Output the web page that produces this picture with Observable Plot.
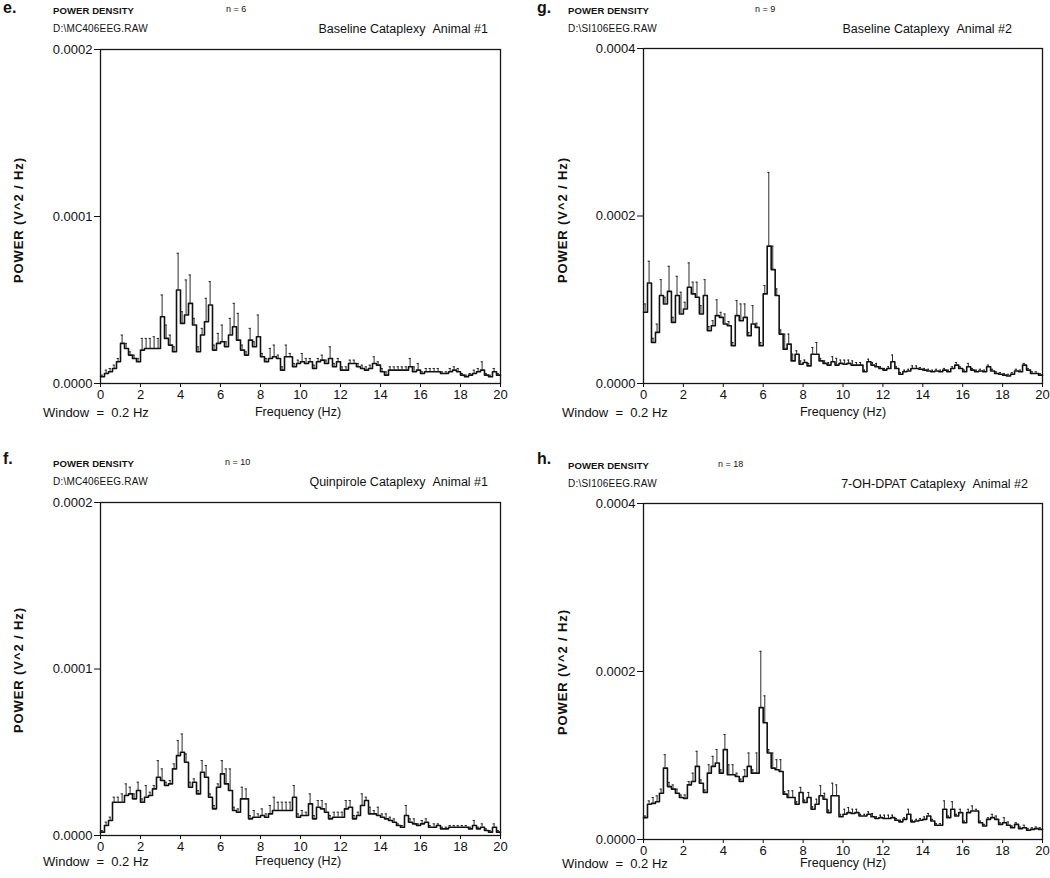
<!DOCTYPE html>
<html>
<head>
<meta charset="utf-8">
<script src="https://cdn.jsdelivr.net/npm/d3@7"></script>
<script src="https://cdn.jsdelivr.net/npm/@observablehq/plot@0.6"></script>
<style>
  html, body { margin: 0; padding: 0; background: #fff; }
  #page { position: relative; width: 1050px; height: 878px; overflow: hidden; font-family: "Liberation Sans", Arial, sans-serif; color: #111; }
  .abs { position: absolute; white-space: nowrap; line-height: 1; }
  .letter { font-weight: bold; font-size: 16px; }
  .small { font-size: 9.5px; font-weight: bold; letter-spacing: 0.1px; }
  .file { font-size: 10px; letter-spacing: 0.2px; }
  .smalln { font-size: 9px; }
  .title { font-size: 12.5px; }
  .ylab { font-size: 13px; font-weight: bold; letter-spacing: 0.9px; transform-origin: 50% 50%; transform: translate(-50%, -50%) rotate(-90deg); }
  .xlab { font-size: 12.5px; }
  .win { font-size: 13px; }
  svg { position: absolute; overflow: visible; }
</style>
</head>
<body>
<div id="page"></div>
<script>
// ---- DATA (values in units of 1e-6 V^2/Hz, one per 0.2 Hz bin, 0..20 Hz) ----
const windowHz = 0.2;
const unit = 1e-6;
const xTicks = [0, 2, 4, 6, 8, 10, 12, 14, 16, 18, 20];
const yTicksAnimal1 = [0, 0.0001, 0.0002];
const yTicksAnimal2 = [0, 0.0002, 0.0004];

// e. Baseline Cataplexy Animal #1
const eMean = [4,6,7,9,13,24,21,17,15,13, 20,21,21,21,21,40,27,23,19,56,
  36,41,48,35,19,29,37,47,20,24, 25,22,29,34,26,20,17,26,22,28,
  16,13,15,16,15,8,16,16,10,12, 13,12,13,9,13,14,12,15,10,13,
  8,8,12,12,10,9,8,9,12,11, 7,5,8,8,8,8,8,10,7,8,
  6,7,7,7,7,6,6,7,8,7, 5,4,5,6,7,8,5,4,7,5];
const eErr = [1,2,2,2,2,5,3,2,2,2, 7,6,6,7,6,13,8,6,3,22,
  7,21,17,4,3,4,14,14,3,6, 10,3,10,14,16,3,2,7,3,13,
  2,2,6,7,2,2,7,2,2,2, 5,3,2,2,2,3,2,7,2,2,
  2,2,2,2,2,2,2,2,4,2, 2,2,2,2,2,2,2,5,3,4,
  1,2,2,2,2,1,1,2,2,2, 1,1,1,2,2,5,1,1,2,1];

// g. Baseline Cataplexy Animal #2
const gMean = [85,120,49,61,105,95,110,73,105,83, 89,115,107,103,83,105,63,69,81,79,
  71,69,45,81,75,79,57,71,67,45, 107,164,136,105,59,41,47,27,35,23,
  25,21,35,35,27,24,22,26,22,24, 23,24,22,22,22,14,26,22,20,18,
  16,18,26,18,11,14,15,18,18,17, 16,15,14,15,14,16,14,18,22,18,
  14,20,16,14,15,14,20,15,12,11, 10,9,11,15,14,22,16,12,12,10];
const gErr = [10,26,5,10,19,8,30,6,23,26, 8,29,14,18,10,19,5,6,19,6,
  12,5,4,18,20,16,4,22,5,4, 10,88,28,8,5,18,12,8,4,4,
  3,3,8,14,3,3,3,6,8,4, 5,4,5,3,3,2,3,3,4,2,
  2,2,8,2,2,2,2,3,3,2, 2,2,2,2,2,2,2,2,3,2,
  2,4,2,2,2,2,2,2,2,2, 2,2,2,2,2,2,2,2,2,2];

// f. Quinpirole Cataplexy Animal #1
const fMean = [2,6,9,20,20,20,24,25,22,27, 20,23,24,28,35,33,30,31,40,48,
  50,44,29,32,25,38,35,23,16,29, 37,31,27,15,14,22,22,10,11,11,
  12,11,13,15,15,15,15,15,23,11, 12,12,19,10,17,16,14,10,11,11,
  11,16,17,10,12,18,21,13,13,12, 11,10,9,8,6,5,12,8,7,6,
  7,8,5,5,6,4,4,5,5,5, 5,5,4,6,4,5,3,2,5,2];
const fErr = [1,2,2,3,3,5,7,4,3,5, 2,7,2,2,10,7,2,2,3,9,
  11,5,3,2,2,7,7,2,2,2, 8,9,13,2,2,7,6,2,4,2,
  4,2,5,8,5,5,5,5,7,2, 3,2,6,2,4,5,5,2,3,3,
  3,5,4,2,2,7,2,4,2,5, 2,3,2,2,1,1,6,2,3,1,
  2,2,1,2,1,1,1,1,1,1, 1,1,1,3,1,2,1,1,2,1];

// h. 7-OH-DPAT Cataplexy Animal #2
const hMean = [26,42,43,45,55,85,63,60,55,50, 49,65,69,87,67,56,79,87,91,79,
  107,77,77,75,69,75,87,79,79,157, 139,103,85,83,81,54,50,50,42,56,
  44,50,36,42,52,48,32,52,52,27, 30,32,31,32,28,28,30,27,25,26,
  25,25,26,23,21,24,30,21,22,23, 24,28,22,17,17,36,26,36,28,32,
  20,32,34,34,20,16,24,26,24,18, 20,17,14,18,13,14,11,12,13,12];
const hErr = [2,4,7,7,5,16,5,5,5,3, 4,4,10,18,4,3,10,12,16,4,
  18,12,12,4,3,8,16,4,24,67, 32,4,18,12,14,3,8,8,3,6,
  3,6,3,6,12,7,3,15,13,3, 6,6,5,4,2,2,3,4,2,3,
  4,4,3,2,2,2,6,2,2,2, 3,3,2,2,2,10,2,9,2,4,
  2,4,6,2,2,2,2,4,4,2, 6,4,2,2,2,3,2,2,2,2];

const panels = [
  {id: "e", letter: "e.", n: "n = 6", file: "D:\\MC406EEG.RAW", title: "Baseline Cataplexy\u00a0\u00a0Animal #1",
   mean: eMean, err: eErr, yMax: 0.0002, yTicks: yTicksAnimal1,
   left: 0, top: 0, w: 525, h: 430, ml: 100, mr: 25, mt: 49, mb: 47,
   letterPos: [3, 0], pdPos: [53, 6], nPos: [226, 5], filePos: [53, 24], titleRight: 488, titleTop: 23,
   ylabCenter: [18, 220], winPos: [43, 406], freqCenter: 298, freqTop: 406},
  {id: "g", letter: "g.", n: "n = 9", file: "D:\\SI106EEG.RAW", title: "Baseline Cataplexy\u00a0\u00a0Animal #2",
   mean: gMean, err: gErr, yMax: 0.0004, yTicks: yTicksAnimal2,
   left: 525, top: 0, w: 525, h: 430, ml: 118, mr: 8, mt: 48, mb: 47,
   letterPos: [537, 0], pdPos: [568, 6], nPos: [755, 5], filePos: [568, 24], titleRight: 1012, titleTop: 23,
   ylabCenter: [562, 220], winPos: [562, 406], freqCenter: 843, freqTop: 406},
  {id: "f", letter: "f.", n: "n = 10", file: "D:\\MC406EEG.RAW", title: "Quinpirole Cataplexy\u00a0\u00a0Animal #1",
   mean: fMean, err: fErr, yMax: 0.0002, yTicks: yTicksAnimal1,
   left: 0, top: 450, w: 525, h: 430, ml: 100, mr: 25, mt: 52, mb: 45,
   letterPos: [3, 451], pdPos: [53, 459], nPos: [225, 458], filePos: [53, 477], titleRight: 488, titleTop: 476,
   ylabCenter: [18, 670], winPos: [43, 855], freqCenter: 298, freqTop: 855},
  {id: "h", letter: "h.", n: "n = 18", file: "D:\\SI106EEG.RAW", title: "7-OH-DPAT Cataplexy\u00a0\u00a0Animal #2",
   mean: hMean, err: hErr, yMax: 0.0004, yTicks: yTicksAnimal2,
   left: 525, top: 450, w: 525, h: 430, ml: 118, mr: 8, mt: 53, mb: 41,
   letterPos: [537, 451], pdPos: [568, 461], nPos: [718, 460], filePos: [568, 479], titleRight: 1028, titleTop: 478,
   ylabCenter: [562, 672], winPos: [562, 857], freqCenter: 843, freqTop: 857}
];

const page = document.getElementById("page");
function addText(txt, cls, x, y, extra) {
  const d = document.createElement("div");
  d.className = "abs " + cls;
  d.textContent = txt;
  d.style.left = x + "px";
  d.style.top = y + "px";
  if (extra) Object.assign(d.style, extra);
  page.appendChild(d);
  return d;
}

for (const p of panels) {
  const rows = p.mean.map((v, i) => ({f: i * windowHz, v: v * unit, up: (v + p.err[i]) * unit}));
  const stepRows = rows.concat([{f: 20, v: rows[rows.length - 1].v}]);
  const chart = Plot.plot({
    width: p.w, height: p.h,
    marginLeft: p.ml, marginRight: p.mr, marginTop: p.mt, marginBottom: p.mb,
    style: {fontFamily: "'Liberation Sans', Arial, sans-serif", fontSize: "12px", background: "transparent", color: "#111"},
    x: {domain: [0, 20]},
    y: {domain: [0, p.yMax]},
    marks: [
      Plot.frame({stroke: "#151515", strokeWidth: 1.3}),
      Plot.axisX({ticks: xTicks, tickSize: 4, tickPadding: 2, tickFormat: d => d, label: null, fontSize: 13}),
      Plot.axisY({ticks: p.yTicks, tickSize: 6, tickPadding: 2, tickFormat: d3.format(".4f"), label: null, fontSize: 13}),
      Plot.ruleX(rows, {x: d => d.f + 0.08, y1: "v", y2: "up", stroke: "#151515", strokeWidth: 0.9}),
      Plot.ruleY(rows, {y: "up", x1: d => d.f + 0.03, x2: d => d.f + 0.13, stroke: "#151515", strokeWidth: 0.9}),
      Plot.line(stepRows, {x: "f", y: "v", curve: "step-after", stroke: "#111", strokeWidth: 1.6})
    ]
  });
  chart.style.left = p.left + "px";
  chart.style.top = p.top + "px";
  page.appendChild(chart);

  addText(p.letter, "letter", p.letterPos[0], p.letterPos[1]);
  addText("POWER DENSITY", "small", p.pdPos[0], p.pdPos[1]);
  addText(p.n, "smalln", p.nPos[0], p.nPos[1]);
  addText(p.file, "file", p.filePos[0], p.filePos[1]);
  const t = addText(p.title, "title", 0, p.titleTop);
  t.style.left = "auto";
  t.style.right = (1050 - p.titleRight) + "px";
  addText("POWER (V^2 / Hz)", "ylab", p.ylabCenter[0], p.ylabCenter[1]);
  addText("Window  =  0.2 Hz", "win", p.winPos[0], p.winPos[1], {whiteSpace: "pre"});
  const fr = addText("Frequency (Hz)", "xlab", p.freqCenter, p.freqTop);
  fr.style.transform = "translateX(-50%)";
}
</script>
</body>
</html>
